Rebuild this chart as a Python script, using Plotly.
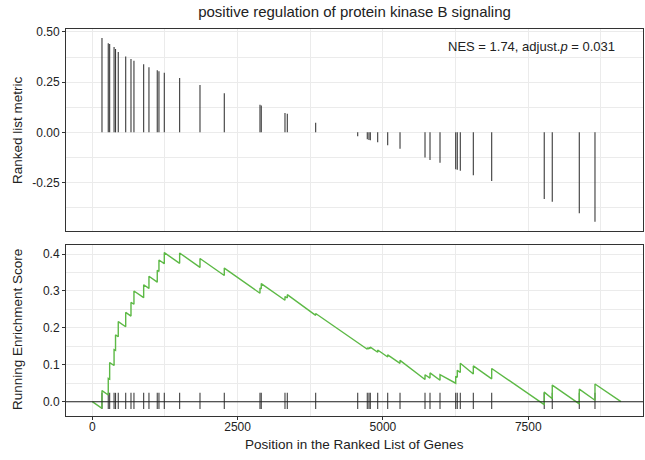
import plotly.graph_objects as go

# ---- data ----
title_text = "positive regulation of protein kinase B signaling"
nes_text = "NES = 1.74, adjust.<i>p</i> = 0.031"

# hit positions in the ranked list and their ranked list metric
hit_pos = [167, 275, 299, 375, 400, 447, 575, 666, 717, 884, 975, 1118, 1147, 1239,
           1503, 1853, 2271, 2885, 2907, 3315, 3355, 3843,
           4566, 4731, 4760, 4783, 4910, 5082, 5294, 5724, 5810, 5982, 6252, 6279,
           6331, 6555, 6871, 7775, 7913, 8378, 8648]
hit_metric = [0.47, 0.443, 0.44, 0.425, 0.415, 0.40, 0.378, 0.365, 0.357, 0.339, 0.324,
              0.309, 0.304, 0.297, 0.270, 0.236, 0.194, 0.137, 0.134, 0.096, 0.093, 0.048,
              -0.02, -0.035, -0.038, -0.04, -0.05, -0.065, -0.082, -0.126, -0.138, -0.151,
              -0.184, -0.186, -0.191, -0.214, -0.243, -0.332, -0.346, -0.403, -0.445]
# running enrichment score just before and just after each hit
es_before = [-0.018, 0.018, 0.061, 0.098, 0.139, 0.176, 0.203, 0.232, 0.264, 0.282, 0.307,
             0.324, 0.353, 0.374, 0.375, 0.364, 0.342, 0.294, 0.306, 0.275, 0.281, 0.234,
             0.158, 0.142, 0.143, 0.144, 0.134, 0.121, 0.104, 0.060, 0.064, 0.058,
             0.050, 0.066, 0.079, 0.075, 0.062, -0.008, 0.008, -0.006, 0.004]
es_after = [0.030, 0.063, 0.106, 0.141, 0.181, 0.217, 0.242, 0.269, 0.300, 0.317, 0.340,
            0.356, 0.384, 0.404, 0.403, 0.388, 0.362, 0.308, 0.320, 0.285, 0.290, 0.239,
            0.160, 0.146, 0.147, 0.148, 0.140, 0.127, 0.112, 0.073, 0.078, 0.073,
            0.069, 0.085, 0.104, 0.097, 0.090, 0.026, 0.045, 0.034, 0.048]
n_genes = 9095

top_ticks = [-0.25, 0.0, 0.25, 0.5]
top_ticktext = ["-0.25", "0.00", "0.25", "0.50"]
bot_ticks = [0.0, 0.1, 0.2, 0.3, 0.4]
bot_ticktext = ["0.0", "0.1", "0.2", "0.3", "0.4"]
x_ticks = [0, 2500, 5000, 7500]
x_ticktext = ["0", "2500", "5000", "7500"]

# ---- build geometry through the axes ----
bar_x, bar_y = [], []
for p, v in zip(hit_pos, hit_metric):
    bar_x += [p, p, None]
    bar_y += [0, v, None]

rug_x, rug_y = [], []
for p in hit_pos:
    rug_x += [p, p, None]
    rug_y += [-0.02, 0.024, None]

es_x, es_y = [0], [0.0]
for p, b, a in zip(hit_pos, es_before, es_after):
    es_x += [p, p]
    es_y += [b, a]
es_x.append(n_genes)
es_y.append(0.0)

GREEN = "#5DB946"
GRID = "#EBEBEB"
BORDER = "#333333"
TXT = "#222222"
FONT = "Liberation Sans, Arial, sans-serif"

fig = go.Figure()
fig.add_trace(go.Scatter(x=bar_x, y=bar_y, mode="lines", line=dict(color="#3a3a3a", width=1.1),
                         xaxis="x", yaxis="y", showlegend=False, hoverinfo="skip"))
fig.add_trace(go.Scatter(x=rug_x, y=rug_y, mode="lines", line=dict(color="rgba(0,0,0,0.75)", width=1.1),
                         xaxis="x2", yaxis="y2", showlegend=False, hoverinfo="skip"))
fig.add_trace(go.Scatter(x=es_x, y=es_y, mode="lines", line=dict(color=GREEN, width=1.4),
                         xaxis="x2", yaxis="y2", showlegend=False, hoverinfo="skip"))

xr = [-452, 9474]
axis_common = dict(showline=True, mirror=True, linecolor=BORDER, linewidth=1,
                   showgrid=True, gridcolor=GRID, gridwidth=1, zeroline=False,
                   tickfont=dict(family=FONT, size=12, color=TXT),
                   ticks="outside", ticklen=3, tickcolor=BORDER)

fig.update_layout(
    width=645, height=460,
    margin=dict(l=66, r=2, t=29, b=44),
    paper_bgcolor="white", plot_bgcolor="white",
    font=dict(family=FONT, color=TXT),
    xaxis=dict(domain=[0, 1], anchor="y", range=xr, tickvals=x_ticks, ticktext=x_ticktext,
               showticklabels=False, **{k: v for k, v in axis_common.items() if k not in ("ticks",)},
               ticks="", minor=dict(dtick=1250, tick0=0, showgrid=True, gridcolor=GRID, gridwidth=1)),
    yaxis=dict(domain=[0.478, 1.0], anchor="x", range=[-0.4915, 0.5145],
               tickvals=top_ticks, ticktext=top_ticktext,
               minor=dict(dtick=0.125, tick0=0, showgrid=True, gridcolor=GRID, gridwidth=1),
               **axis_common),
    xaxis2=dict(domain=[0, 1], anchor="y2", range=xr, tickvals=x_ticks, ticktext=x_ticktext,
                minor=dict(dtick=1250, tick0=0, showgrid=True, gridcolor=GRID, gridwidth=1),
                ticklabelstandoff=-3,
                **axis_common),
    yaxis2=dict(domain=[0.0, 0.4419], anchor="x2", range=[-0.0388, 0.4247],
                tickvals=bot_ticks, ticktext=bot_ticktext,
                minor=dict(dtick=0.05, tick0=0, showgrid=True, gridcolor=GRID, gridwidth=1),
                **axis_common),
    title=dict(text=title_text, x=(354.5) / 645, xanchor="center", y=1 - 12 / 460,
               yanchor="middle", font=dict(family=FONT, size=15, color=TXT)),
    shapes=[dict(type="line", xref="x2 domain", yref="y2", x0=0, x1=1, y0=0, y1=0,
                 line=dict(color="#222222", width=1.1), layer="above")],
    annotations=[
        dict(text=nes_text, xref="paper", yref="paper", x=(617 - 66) / 577, y=(416 - 46) / 387,
             xanchor="right", yanchor="middle", showarrow=False,
             font=dict(family=FONT, size=13, color=TXT)),
        dict(text="Ranked list metric", xref="paper", yref="paper", x=(17 - 66) / 577,
             y=(416 - 130) / 387, textangle=-90, showarrow=False, xanchor="center", yanchor="middle",
             font=dict(family=FONT, size=13.5, color=TXT)),
        dict(text="Running Enrichment Score", xref="paper", yref="paper", x=(17 - 66) / 577,
             y=(416 - 330) / 387, textangle=-90, showarrow=False, xanchor="center", yanchor="middle",
             font=dict(family=FONT, size=13.5, color=TXT)),
        dict(text="Position in the Ranked List of Genes", xref="paper", yref="paper", x=0.5,
             y=(416 - 444) / 387, showarrow=False, xanchor="center", yanchor="middle",
             font=dict(family=FONT, size=13.5, color=TXT)),
    ],
)

fig.write_html("out.html")
